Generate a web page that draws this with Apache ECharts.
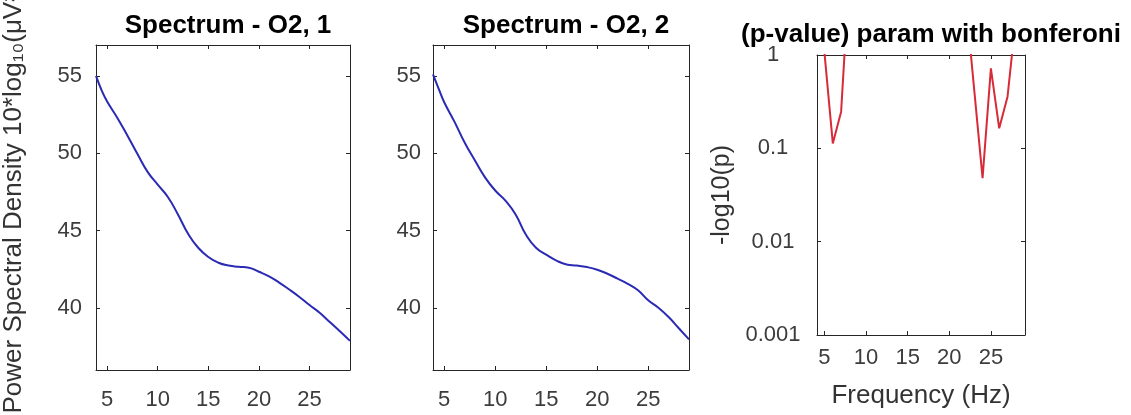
<!DOCTYPE html>
<html>
<head>
<meta charset="utf-8">
<script src="https://cdn.jsdelivr.net/npm/echarts@6/dist/echarts.min.js"></script>
<style>
html, body { margin: 0; padding: 0; background: #fff; }
#chart { width: 1131px; height: 415px; }
</style>
</head>
<body>
<div id="chart"></div>
<script>
// spectrum frequencies (Hz) and the two PSD curves (dB)
var freqs = [3.9, 4.5, 5, 6, 7, 8, 9, 10, 11, 12, 13, 14, 15, 16, 17, 18, 19, 20, 21, 22, 23, 24, 25, 26, 27, 28, 29];
var psd1 = [55.0, 54.0, 53.35, 52.3, 51.15, 49.95, 48.8, 47.98, 47.18, 46.05, 44.8, 43.9, 43.3, 42.93, 42.75, 42.67, 42.61, 42.35, 42.05, 41.65, 41.2, 40.72, 40.2, 39.7, 39.1, 38.5, 37.88];
var psd2 = [55.1, 54.1, 53.3, 52.05, 50.7, 49.55, 48.45, 47.6, 46.95, 46.05, 44.75, 43.9, 43.45, 43.07, 42.82, 42.75, 42.65, 42.48, 42.22, 41.9, 41.57, 41.15, 40.5, 40.02, 39.42, 38.7, 37.98];

// p-values (only the part below 1 is visible, the rest is clipped)
var pFreqs = [4, 5, 6, 7, 8, 9, 10, 11, 12, 13, 14, 15, 16, 17, 18, 19, 20, 21, 22, 23, 24, 25, 26, 27, 28, 29];
var pValues = [null, 1.05, 0.113, 0.247, 8.1, null, null, null, null, null, null, null, null, null, null, null, null, null, 3.7, 0.42, 0.048, 0.72, 0.164, 0.357, 2.5, null];

var xTicks = [5, 10, 15, 20, 25];
var psdTicks = [40, 45, 50, 55];
var titles = ['Spectrum - O2, 1', 'Spectrum - O2, 2', '(p-value) param with bonferoni'];

var FONT = '"Liberation Sans", Arial, Helvetica, sans-serif';
var boxColor = '#262626';
var tickColor = '#3c3c3c';

var chart = echarts.init(document.getElementById('chart'));

function xAxisPair(grid, min, max, margin) {
    var base = {
        gridIndex: grid,
        type: 'value',
        min: min,
        max: max,
        axisLine: { show: true, onZero: false, lineStyle: { color: boxColor, width: 1 } },
        axisTick: { inside: true, length: 4, customValues: xTicks, lineStyle: { color: boxColor } },
        splitLine: { show: false }
    };
    var bottom = echarts.util.merge({
        position: 'bottom',
        axisLabel: { customValues: xTicks, fontSize: 22, color: tickColor, fontFamily: FONT, margin: margin }
    }, base, true);
    var top = echarts.util.merge({
        position: 'top',
        axisLabel: { show: false }
    }, base, true);
    return [bottom, top];
}

function yAxisPair(grid, min, max, margin) {
    var base = {
        gridIndex: grid,
        type: 'value',
        min: min,
        max: max,
        axisLine: { show: true, onZero: false, lineStyle: { color: boxColor, width: 1 } },
        axisTick: { inside: true, length: 4, customValues: psdTicks, lineStyle: { color: boxColor } },
        splitLine: { show: false }
    };
    var left = echarts.util.merge({
        position: 'left',
        axisLabel: { customValues: psdTicks, fontSize: 22, color: tickColor, fontFamily: FONT, margin: margin }
    }, base, true);
    var right = echarts.util.merge({
        position: 'right',
        axisLabel: { show: false }
    }, base, true);
    return [left, right];
}

var x1 = xAxisPair(0, 3.9, 29, 19);
var x2 = xAxisPair(1, 3.9, 29, 19);
var x3 = xAxisPair(2, 4.1, 29.1, 12);
x3[0].name = 'Frequency (Hz)';
x3[0].nameLocation = 'middle';
x3[0].nameGap = 48;
x3[0].nameTextStyle = { fontSize: 26, color: '#333', fontFamily: FONT };

var y1 = yAxisPair(0, 36, 57, 14);
y1[0].name = 'Power Spectral Density 10*log₁₀(μV²/Hz)';
y1[0].nameLocation = 'middle';
y1[0].nameGap = 69;
y1[0].nameTextStyle = { fontSize: 26, color: '#333', fontFamily: FONT, padding: [0, 0, 0, 56] };
var y2 = yAxisPair(1, 36, 57, 12);

var logBase = {
    gridIndex: 2,
    type: 'log',
    logBase: 10,
    min: 0.001,
    max: 1,
    axisLine: { show: true, onZero: false, lineStyle: { color: boxColor, width: 1 } },
    axisTick: { inside: true, length: 4, lineStyle: { color: boxColor } },
    minorTick: { show: false },
    splitLine: { show: false }
};
var y3 = [
    echarts.util.merge({
        position: 'left',
        name: '-log10(p)',
        nameLocation: 'middle',
        nameGap: 82,
        nameTextStyle: { fontSize: 25, color: '#333', fontFamily: FONT },
        axisLabel: { fontSize: 22, color: tickColor, fontFamily: FONT, margin: 44, align: 'center' }
    }, logBase, true),
    echarts.util.merge({ position: 'right', axisLabel: { show: false } }, logBase, true)
];

var titleStyle = { fontSize: 26, fontWeight: 'bold', color: '#000', fontFamily: FONT };

var option = {
    backgroundColor: '#fff',
    animation: false,
    title: [
        { text: titles[0], left: 223, top: 8, textAlign: 'center', textStyle: titleStyle },
        { text: titles[1], left: 561, top: 8, textAlign: 'center', textStyle: titleStyle },
        { text: titles[2], left: 926, top: 17, textAlign: 'center', textStyle: titleStyle }
    ],
    grid: [
        { left: 96, top: 45, width: 254, height: 325, outerBoundsMode: 'none' },
        { left: 433, top: 45, width: 256, height: 325, outerBoundsMode: 'none' },
        { left: 817, top: 55, width: 208, height: 280, outerBoundsMode: 'none' }
    ],
    xAxis: [x1[0], x2[0], x3[0], x1[1], x2[1], x3[1]],
    yAxis: [y1[0], y2[0], y3[0], y1[1], y2[1], y3[1]],
    series: [
        {
            type: 'line', xAxisIndex: 0, yAxisIndex: 0,
            data: freqs.map(function(f, i) { return [f, psd1[i]]; }),
            showSymbol: false, smooth: true,
            lineStyle: { color: '#2a2ab4', width: 2 }
        },
        {
            type: 'line', xAxisIndex: 1, yAxisIndex: 1,
            data: freqs.map(function(f, i) { return [f, psd2[i]]; }),
            showSymbol: false, smooth: true,
            lineStyle: { color: '#2a2ab4', width: 2 }
        },
        {
            type: 'line', xAxisIndex: 2, yAxisIndex: 2,
            data: pFreqs.map(function(f, i) { return [f, pValues[i]]; }),
            showSymbol: false, clip: true,
            lineStyle: { color: '#d82a38', width: 2 }
        }
    ]
};

chart.setOption(option);
</script>
</body>
</html>
